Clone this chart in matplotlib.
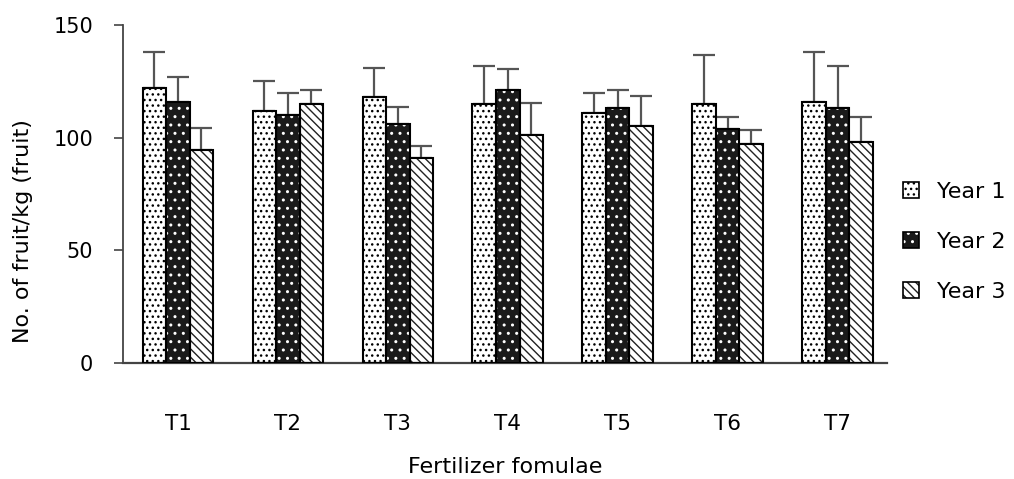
import numpy as np
import matplotlib
matplotlib.use("Agg")
import matplotlib.pyplot as plt
from matplotlib.patches import Patch
from matplotlib.legend_handler import HandlerTuple

# Data
treatments = ["T1", "T2", "T3", "T4", "T5", "T6", "T7"]
years = ["Year 1", "Year 2", "Year 3"]
year1 = [122, 112, 118, 115, 111, 115, 116]
year2 = [116, 110, 106, 121, 113, 104, 113]
year3 = [94.5, 115, 91, 101, 105, 97, 98]
year1_err = [16, 13, 13, 17, 9, 21.5, 22]
year2_err = [11, 10, 7.5, 9.5, 8, 5, 19]
year3_err = [10, 6, 5.5, 14.5, 13.5, 6.5, 11]

plt.rcParams['font.family'] = ['DejaVu Sans']
plt.rcParams['hatch.linewidth'] = 1.0

fig = plt.figure(figsize=(10.14, 4.79), dpi=100)
ax = fig.add_axes([0.1213, 0.2422, 0.7535, 0.7056])

x = np.arange(len(treatments))
w = 0.214
err_kw = dict(ecolor='#555555', elinewidth=1.6, capsize=8, capthick=1.6)

# (values, errors, offset, face, hatch colour, hatch)
styles = [
    (year1, year1_err, -w, 'white', 'black', '...'),
    (year2, year2_err, 0, '#1a1a1a', 'white', '..'),
    (year3, year3_err, w, 'white', '#222222', '\\\\\\\\'),
]

handles = []
for vals, errs, off, face, hcol, hatch in styles:
    ax.bar(x + off, vals, w, color=face, edgecolor=hcol, hatch=hatch,
           linewidth=0, zorder=2)
    ax.bar(x + off, vals, w, fill=False, edgecolor='black', linewidth=1.5, zorder=3)
    ax.errorbar(x + off, vals, yerr=[[0] * len(vals), errs], fmt='none',
                zorder=1, **err_kw)
    handles.append((Patch(facecolor=face, edgecolor=hcol, hatch=hatch, linewidth=0),
                    Patch(fill=False, edgecolor='black', linewidth=1.2)))

ax.set_xlim(-0.5, 6.45)
ax.set_ylim(0, 150)
ax.set_yticks([0, 50, 100, 150])
ax.set_xticks(x)
ax.set_xticklabels(treatments)

for side in ['top', 'right']:
    ax.spines[side].set_visible(False)
ax.spines['left'].set_color('#444444')
ax.spines['bottom'].set_color('#444444')
ax.spines['left'].set_linewidth(1.3)
ax.spines['bottom'].set_linewidth(1.6)

ax.tick_params(axis='y', length=6.5, width=1.2, color='#444444', labelsize=15, pad=15)
ax.tick_params(axis='x', length=0, labelsize=15.5, pad=37)

ax.set_ylabel('No. of fruit/kg (fruit)', fontsize=16)
ax.yaxis.set_label_coords(-0.118, 0.39)
ax.set_xlabel('Fertilizer fomulae', fontsize=16)
ax.xaxis.set_label_coords(0.5, -0.278)

fig.legend(handles, years, handler_map={tuple: HandlerTuple(ndivide=1, pad=0)},
           loc='center left', bbox_to_anchor=(0.8905, 0.4948),
           bbox_transform=fig.transFigure, frameon=False, fontsize=16,
           handlelength=0.7, handleheight=0.7, handletextpad=0.85,
           labelspacing=1.35, borderpad=0, borderaxespad=0)

fig.savefig('out.png', dpi=100)
